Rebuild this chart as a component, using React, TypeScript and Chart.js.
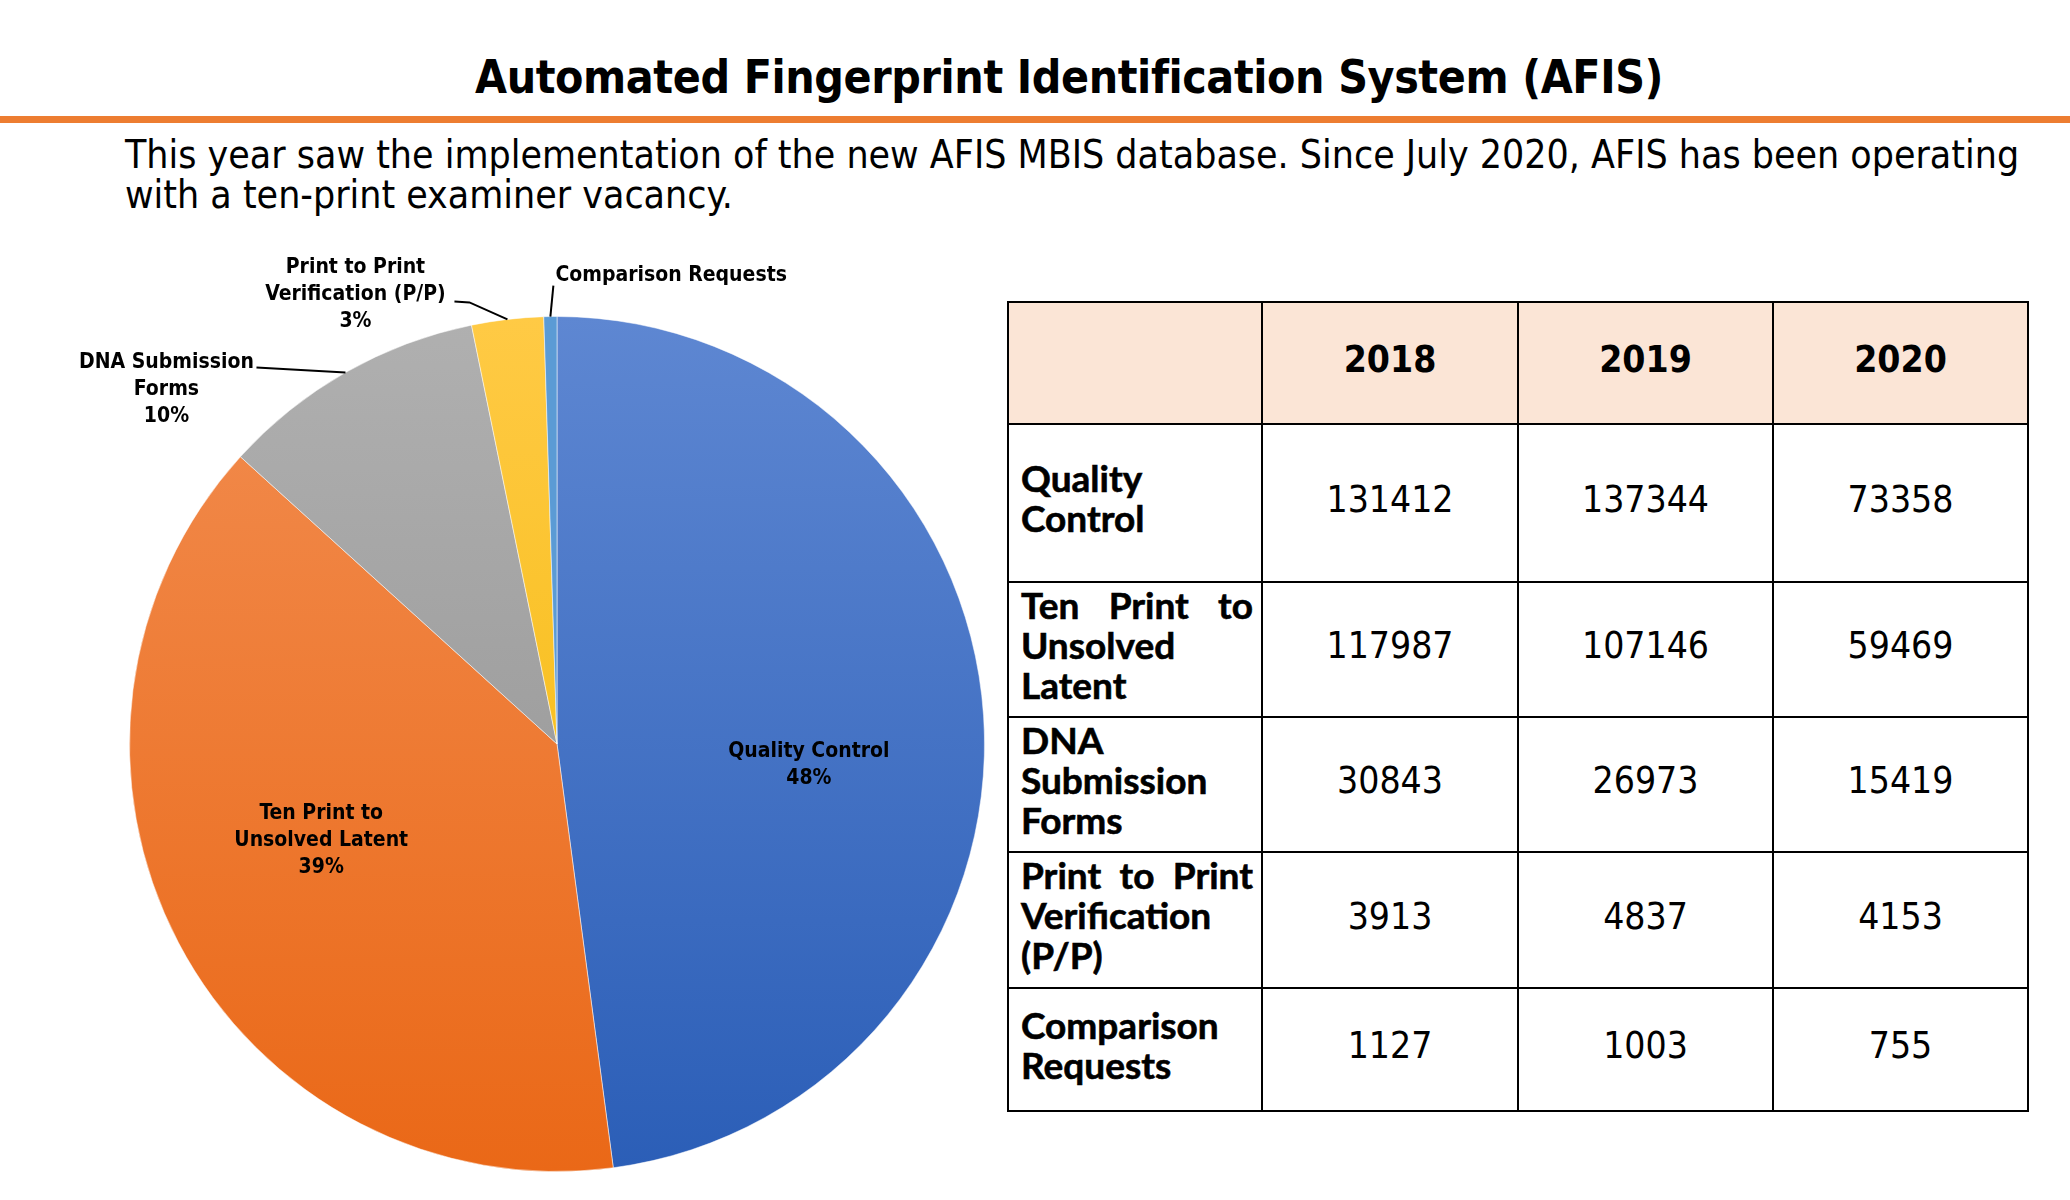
import React, { useEffect, useRef } from "react";
import { Chart, registerables } from "chart.js";

Chart.register(...registerables);

// ---------- DATA ----------
const titleText = "Automated Fingerprint Identification System (AFIS)";
const subtitleText =
  "This year saw the implementation of the new AFIS MBIS database. Since July 2020, AFIS has been operating with a ten-print examiner vacancy.";

const categories = [
  "Quality Control",
  "Ten Print to Unsolved Latent",
  "DNA Submission Forms",
  "Print to Print Verification (P/P)",
  "Comparison Requests",
];
const pieLabelLines = [
  ["Quality Control"],
  ["Ten Print to", "Unsolved Latent"],
  ["DNA Submission", "Forms"],
  ["Print to Print", "Verification (P/P)"],
  ["Comparison Requests"],
];
const showPercent = [true, true, true, true, false];

const years = ["2018", "2019", "2020"];
const values2018 = [131412, 117987, 30843, 3913, 1127];
const values2019 = [137344, 107146, 26973, 4837, 1003];
const values2020 = [73358, 59469, 15419, 4153, 755];
const pieValues = values2020;

const topColors = ["#5E87D2", "#F28D50", "#B0B0B0", "#FFCA45", "#5B9BD5"];
const bottomColors = ["#2B5EB7", "#EA6817", "#8E8E8E", "#F2B700", "#5B9BD5"];

const FONT = '"DejaVu Sans Condensed", "DejaVu Sans", sans-serif';
const LABEL_FONT = 'Lato, "DejaVu Sans Condensed", sans-serif';

// ---------- PIE ----------
function PieChart() {
  const ref = useRef<HTMLCanvasElement | null>(null);
  useEffect(() => {
    if (!ref.current) return;
    const total = pieValues.reduce((a, b) => a + b, 0);

    const labelPlugin = {
      id: "pieLabels",
      afterDatasetsDraw(chart: any) {
        const ctx = chart.ctx;
        const meta = chart.getDatasetMeta(0);
        ctx.save();
        ctx.fillStyle = "#000";
        ctx.strokeStyle = "#000";
        ctx.font = `bold 21px ${FONT}`;
        ctx.textBaseline = "middle";
        const lh = 27;
        meta.data.forEach((arc: any, i: number) => {
          const p = arc.getProps(["x", "y", "startAngle", "endAngle", "outerRadius"], true);
          const mid = (p.startAngle + p.endAngle) / 2;
          const lines = [...pieLabelLines[i]];
          if (showPercent[i]) lines.push(Math.round((pieValues[i] / total) * 100) + "%");
          if (i <= 1) {
            const a = mid + 0.12;
            const cx = p.x + Math.cos(a) * p.outerRadius * 0.59;
            const cy = p.y + Math.sin(a) * p.outerRadius * 0.59 + 7;
            ctx.textAlign = "center";
            lines.forEach((t, k) => ctx.fillText(t, cx, cy + (k - (lines.length - 1) / 2) * lh));
            return;
          }
          const ex = p.x + Math.cos(mid) * p.outerRadius;
          const ey = p.y + Math.sin(mid) * p.outerRadius;
          ctx.lineWidth = 2;
          ctx.beginPath();
          ctx.moveTo(ex, ey);
          if (i === 2) {
            const bx = ex - 89, by = ey - 5;
            ctx.lineTo(bx, by);
            ctx.stroke();
            ctx.textAlign = "center";
            lines.forEach((t, k) => ctx.fillText(t, bx - 90, by - 5 + k * lh));
          } else if (i === 3) {
            const bx = ex - 38, by = ey - 17;
            ctx.lineTo(bx, by);
            ctx.lineTo(bx - 15, by - 1);
            ctx.stroke();
            ctx.textAlign = "center";
            lines.forEach((t, k) => ctx.fillText(t, bx - 114, by - 8 + (k - 1) * lh));
          } else {
            const bx = ex + 3, by = ey - 31;
            ctx.lineTo(bx, by);
            ctx.stroke();
            ctx.textAlign = "left";
            lines.forEach((t, k) => ctx.fillText(t, bx + 2, by - 10 + k * lh));
          }
        });
        ctx.restore();
      },
    };

    const chart = new Chart(ref.current, {
      type: "pie",
      data: {
        labels: categories,
        datasets: [
          {
            data: pieValues,
            backgroundColor: (c: any) => {
              const ch = c.chart;
              const area = ch.chartArea;
              if (!area) return topColors[c.dataIndex];
              const g = ch.ctx.createLinearGradient(0, area.top, 0, area.bottom);
              g.addColorStop(0, topColors[c.dataIndex]);
              g.addColorStop(1, bottomColors[c.dataIndex]);
              return g;
            },
            borderColor: "rgba(255,255,255,0.5)",
            borderWidth: 1,
          },
        ],
      },
      options: {
        responsive: false,
        animation: false,
        layout: { padding: { left: 129, right: 15, top: 86, bottom: 28 } },
        plugins: { legend: { display: false }, tooltip: { enabled: false } },
      },
      plugins: [labelPlugin],
    });
    return () => chart.destroy();
  }, []);
  return (
    <canvas
      ref={ref}
      width={1000}
      height={970}
      style={{ position: "absolute", left: 0, top: 230, width: 1000, height: 970 }}
    />
  );
}

// ---------- TABLE ----------
const colWidths = [254, 256, 255, 255];
const rowHeights = [122, 158, 135, 135, 136, 123];

function DataTable() {
  const border = "2px solid #000";
  const cell: React.CSSProperties = {
    border,
    padding: 0,
    fontFamily: FONT,
    fontSize: 37,
    textAlign: "center",
    verticalAlign: "middle",
    color: "#000",
  };
  return (
    <table
      style={{
        position: "absolute",
        left: 1007,
        top: 301,
        borderCollapse: "collapse",
        tableLayout: "fixed",
        width: colWidths.reduce((a, b) => a + b, 0),
      }}
    >
      <colgroup>
        {colWidths.map((w, i) => (
          <col key={i} style={{ width: w }} />
        ))}
      </colgroup>
      <tbody>
        <tr style={{ height: rowHeights[0], background: "#FBE5D6" }}>
          <td style={cell}></td>
          {years.map((y) => (
            <td key={y} style={{ ...cell, fontWeight: "bold", paddingBottom: 7 }}>
              {y}
            </td>
          ))}
        </tr>
        {categories.map((c, i) => (
          <tr key={c} style={{ height: rowHeights[i + 1] }}>
            <td
              style={{
                ...cell,
                fontFamily: LABEL_FONT,
                fontWeight: "bold",
                textAlign: "justify",
                padding: "0 8px 10px 12px",
                lineHeight: "40px",
                WebkitTextStroke: "0.6px #000",
              }}
            >
              {c}
            </td>
            {[values2018, values2019, values2020].map((arr, k) => (
              <td key={k} style={{ ...cell, paddingBottom: 8 }}>
                {arr[i]}
              </td>
            ))}
          </tr>
        ))}
      </tbody>
    </table>
  );
}

export default function App() {
  return (
    <div style={{ position: "absolute", left: 0, top: 0, width: 2070, height: 1200, background: "#fff", overflow: "hidden" }}>
      <div
        style={{
          position: "absolute",
          left: 475,
          top: 47,
          fontFamily: FONT,
          fontWeight: "bold",
          fontSize: 46,
          letterSpacing: "-0.4px",
          lineHeight: "60px",
          whiteSpace: "nowrap",
          color: "#000",
        }}
      >
        {titleText}
      </div>
      <div style={{ position: "absolute", left: 0, top: 116, width: 2070, height: 7, background: "#ED7D31" }} />
      <div
        style={{
          position: "absolute",
          left: 125,
          top: 135,
          width: 1900,
          fontFamily: FONT,
          fontSize: 38.9,
          lineHeight: "40px",
          color: "#000",
        }}
      >
        {subtitleText}
      </div>
      <PieChart />
      <DataTable />
    </div>
  );
}
